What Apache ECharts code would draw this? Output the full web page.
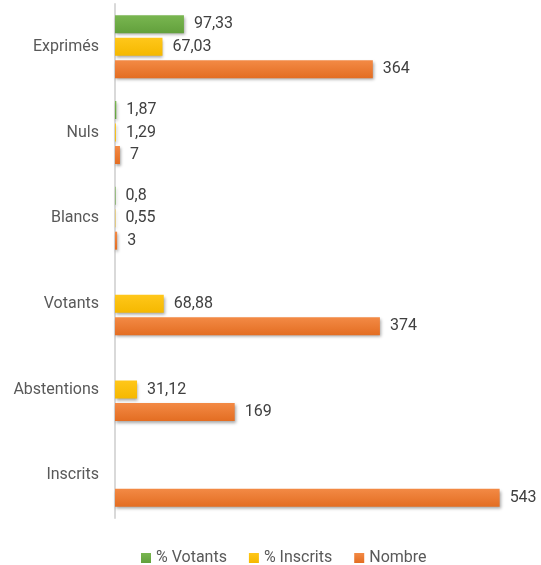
<!DOCTYPE html>
<html>
<head>
<meta charset="utf-8">
<style>
  html, body { margin: 0; padding: 0; background: #fff; }
  #chart { width: 541px; height: 565px; }
</style>
<script src="https://cdn.jsdelivr.net/npm/echarts@6/dist/echarts.min.js"></script>
</head>
<body>
<div id="chart"></div>
<script>
// catégories, de bas en haut
const categories = ['Inscrits', 'Abstentions', 'Votants', 'Blancs', 'Nuls', 'Exprimés'];
const pctVotants = [null, null, null, 0.8, 1.87, 97.33];
const pctInscrits = [null, 31.12, 68.88, 0.55, 1.29, 67.03];
const nombre = [543, 169, 374, 3, 7, 364];

let myChart = echarts.init(document.getElementById('chart'));

// barre avec léger dégradé et ombre portée
function barStyle(top, bottom) {
    return {
        color: new echarts.graphic.LinearGradient(0, 0, 0, 1, [
            { offset: 0, color: top },
            { offset: 1, color: bottom }
        ]),
        shadowColor: 'rgba(0, 0, 0, 0.35)',
        shadowBlur: 3,
        shadowOffsetX: 1,
        shadowOffsetY: 2
    };
}

const labelStyle = {
    show: true,
    position: 'right',
    distance: 10,
    color: '#404040',
    fontSize: 16,
    fontFamily: 'Roboto',
    formatter: function (p) {
        return String(p.value).replace('.', ',');
    }
};

let option = {
    animation: false,
    textStyle: { fontFamily: 'Roboto' },
    grid: { left: 115, right: 1, top: 4, bottom: 47 },
    legend: {
        top: 545,
        left: 136,
        itemWidth: 10,
        itemHeight: 10,
        itemGap: 22,
        icon: 'rect',
        data: ['% Votants', '% Inscrits', 'Nombre'],
        textStyle: { color: '#595959', fontSize: 16, fontFamily: 'Roboto' }
    },
    xAxis: {
        type: 'value',
        min: 0,
        max: 600,
        show: false
    },
    yAxis: {
        type: 'category',
        data: categories,
        axisLine: { lineStyle: { color: '#d9d9d9', width: 2 } },
        axisTick: { show: false },
        axisLabel: { color: '#595959', fontSize: 16, margin: 16, fontFamily: 'Roboto' }
    },
    // en horizontal, la première série est placée en haut de chaque bande
    series: [{
        name: '% Votants',
        type: 'bar',
        data: pctVotants,
        barWidth: 18,
        barGap: '25%',
        itemStyle: barStyle('#79b650', '#62a03c'),
        label: labelStyle
    }, {
        name: '% Inscrits',
        type: 'bar',
        data: pctInscrits,
        barWidth: 18,
        itemStyle: barStyle('#ffc71a', '#f5b800'),
        label: labelStyle
    }, {
        name: 'Nombre',
        type: 'bar',
        data: nombre,
        barWidth: 18,
        itemStyle: barStyle('#f38a45', '#e36d22'),
        label: labelStyle
    }],
    color: ['#70ad47', '#ffc000', '#ed7d31']
};

myChart.setOption(option);
</script>
</body>
</html>
